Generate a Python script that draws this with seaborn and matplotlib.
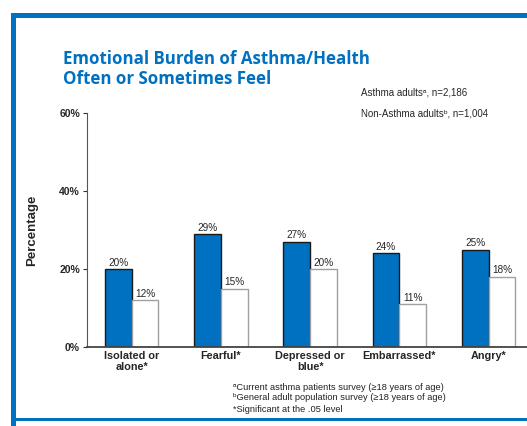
import numpy as np
import pandas as pd
import seaborn as sns
import matplotlib.pyplot as plt
from matplotlib.patches import Rectangle

categories = ["Isolated or\nalone*", "Fearful*", "Depressed or\nblue*", "Embarrassed*", "Angry*"]
asthma = [20, 29, 27, 24, 25]
non_asthma = [12, 15, 20, 11, 18]
series_names = ["Asthma adults", "Non-Asthma adults"]
yticks = [0, 20, 40, 60]

blue = "#0070C0"
W, H = 527, 426

sns.set_style("white")
plt.rcParams['font.family'] = ['Liberation Sans', 'DejaVu Sans']

df = pd.DataFrame({
    "category": categories * 2,
    "value": asthma + non_asthma,
    "group": [series_names[0]] * 5 + [series_names[1]] * 5,
})

fig = plt.figure(figsize=(W / 100, H / 100), dpi=100)
ax = fig.add_axes([87 / W, (H - 347) / H, (W - 87) / W, (347 - 113) / H])

sns.barplot(data=df, x="category", y="value", hue="group", order=categories,
            hue_order=series_names, palette={series_names[0]: blue, series_names[1]: "white"},
            width=0.6, saturation=1, ax=ax, legend=False)

# edges + value labels
for cont, ec in zip(ax.containers, ["#1a1a1a", "#a0a0a0"]):
    for b in cont:
        b.set_edgecolor(ec)
        b.set_linewidth(1.0)
    ax.bar_label(cont, labels=[f"{v:.0f}%" for v in cont.datavalues],
                 padding=1, fontsize=7.2)

ax.set_ylim(0, 60)
ax.set_xlim(-0.5, 4.43)
ax.set_yticks(yticks)
ax.set_yticklabels([f"{t}%" for t in yticks], fontsize=7.5, fontweight="bold")
ax.set_xticks(range(len(categories)))
ax.set_xticklabels(categories, fontsize=7.8, fontweight="bold", linespacing=1.1)
ax.set_xticks(np.arange(0.5, 4.5, 1), minor=True)
ax.tick_params(axis="x", which="major", length=0, pad=3)
ax.tick_params(axis="x", which="minor", length=3, width=0.8, color="#333333", direction="out")
ax.tick_params(axis="y", length=3, width=0.8, color="#333333", direction="out", pad=2, left=True)
ax.set_xlabel("")
ax.set_ylabel("")
for s in ["top", "right"]:
    ax.spines[s].set_visible(False)
ax.spines["left"].set_color("#555555")
ax.spines["left"].set_linewidth(0.8)
ax.spines["bottom"].set_color("#444444")
ax.spines["bottom"].set_linewidth(1.3)

fig.text(32 / W, 1 - 230 / H, "Percentage", rotation=90, ha="center", va="center",
         fontsize=9.5, fontweight="bold")

# title
fig.text(63 / W, 1 - 50 / H, "Emotional Burden of Asthma/Health\nOften or Sometimes Feel",
         ha="left", va="top", fontsize=12.2, fontweight="bold", color=blue,
         family=["Open Sans", "DejaVu Sans"], linespacing=1.15)

# legend-like text
fig.text(361 / W, 1 - 93 / H, "Asthma adults\u1d43, n=2,186", fontsize=7, va="center")
fig.text(361 / W, 1 - 113 / H, "Non-Asthma adults\u1d47, n=1,004", fontsize=7, va="center")

# footnotes
notes = ["\u1d43Current asthma patients survey (\u226518 years of age)",
         "\u1d47General adult population survey (\u226518 years of age)",
         "*Significant at the .05 level"]
for i, t in enumerate(notes):
    fig.text(233 / W, 1 - (387 + i * 11) / H, t, fontsize=6.7, va="center", color="#222222")

# blue frame
fig.patches.append(Rectangle((11 / W, 0), 5 / W, (H - 13) / H, transform=fig.transFigure,
                             facecolor=blue, edgecolor="none"))
fig.patches.append(Rectangle((11 / W, 1 - 18 / H), (W - 11) / W, 5 / H, transform=fig.transFigure,
                             facecolor=blue, edgecolor="none"))
fig.patches.append(Rectangle((11 / W, 1 - 421 / H), (W - 11) / W, 3 / H, transform=fig.transFigure,
                             facecolor=blue, edgecolor="none"))

fig.savefig("out.png", dpi=100)
